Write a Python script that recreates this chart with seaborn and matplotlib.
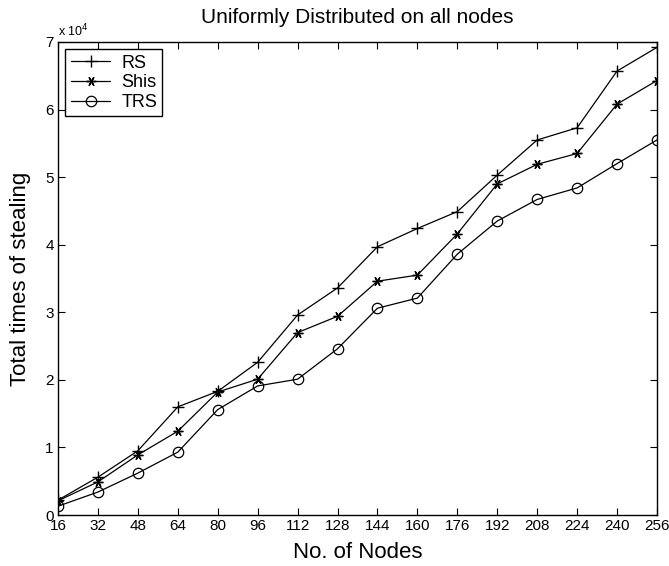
import pandas as pd
import matplotlib
matplotlib.use('Agg')
import matplotlib.pyplot as plt
import seaborn as sns
from matplotlib.ticker import FuncFormatter

# values
nodes = [16, 32, 48, 64, 80, 96, 112, 128, 144, 160, 176, 192, 208, 224, 240, 256]
rs = [2200, 5600, 9500, 16000, 18300, 22600, 29600, 33600, 39700, 42400,
      44900, 50300, 55500, 57300, 65700, 69200]
shis = [2100, 4900, 8900, 12400, 18200, 20100, 27000, 29400, 34600, 35500,
        41600, 49000, 51900, 53500, 60800, 64300]
trs = [1300, 3400, 6200, 9300, 15600, 19100, 20100, 24600, 30600, 32100,
       38600, 43500, 46700, 48400, 52000, 55500]

df = pd.DataFrame({'Nodes': nodes, 'RS': rs, 'Shis': shis, 'TRS': trs})

sns.set_style('ticks')
plt.rcParams['font.family'] = ['Liberation Sans', 'DejaVu Sans']
plt.rcParams['text.color'] = 'black'
plt.rcParams['axes.labelcolor'] = 'black'

fig = plt.figure(figsize=(6.69, 5.66), dpi=100)
ax = fig.add_axes([0.0867, 0.0901, 0.8953, 0.8357])

sns.lineplot(x='Nodes', y='RS', data=df, ax=ax, color='black', lw=0.9,
             marker='+', markersize=8, markeredgewidth=1.0,
             markeredgecolor='black', label='RS')
sns.lineplot(x='Nodes', y='Shis', data=df, ax=ax, color='black', lw=0.9,
             marker=(6, 2, 90), markersize=7, markeredgewidth=1.0,
             markeredgecolor='black', label='Shis')
sns.lineplot(x='Nodes', y='TRS', data=df, ax=ax, color='black', lw=0.9,
             marker='o', markersize=7.5, markerfacecolor='none',
             markeredgecolor='black', markeredgewidth=0.9, label='TRS')

ax.set_xlim(16, 256)
ax.set_ylim(0, 70000)
ax.set_xticks(nodes)
ax.set_yticks(range(0, 70001, 10000))
ax.yaxis.set_major_formatter(FuncFormatter(lambda v, p: f'{v / 1e4:g}'))
ax.tick_params(direction='in', top=True, right=True, length=5, width=0.8,
               labelsize=11, pad=3, colors='black')
for s in ax.spines.values():
    s.set_linewidth(1.0)
    s.set_color('black')

ax.text(0, 1.005, 'x 10$^4$', transform=ax.transAxes, fontsize=9,
        ha='left', va='bottom')

ax.set_title('Uniformly Distributed on all nodes', fontsize=15, pad=14)
ax.set_xlabel('No. of Nodes', fontsize=16, labelpad=6)
ax.set_ylabel('Total times of stealing', fontsize=16, labelpad=10)

leg = ax.legend(loc='upper left', fontsize=13, frameon=True, fancybox=False,
                edgecolor='black', borderaxespad=0.4, handlelength=2.2,
                labelspacing=0.15, borderpad=0.3, handletextpad=0.6)
leg.get_frame().set_linewidth(1.0)
leg.get_frame().set_alpha(1)
for t in leg.get_texts():
    t.set_color('black')

fig.savefig('out.png', dpi=100)
